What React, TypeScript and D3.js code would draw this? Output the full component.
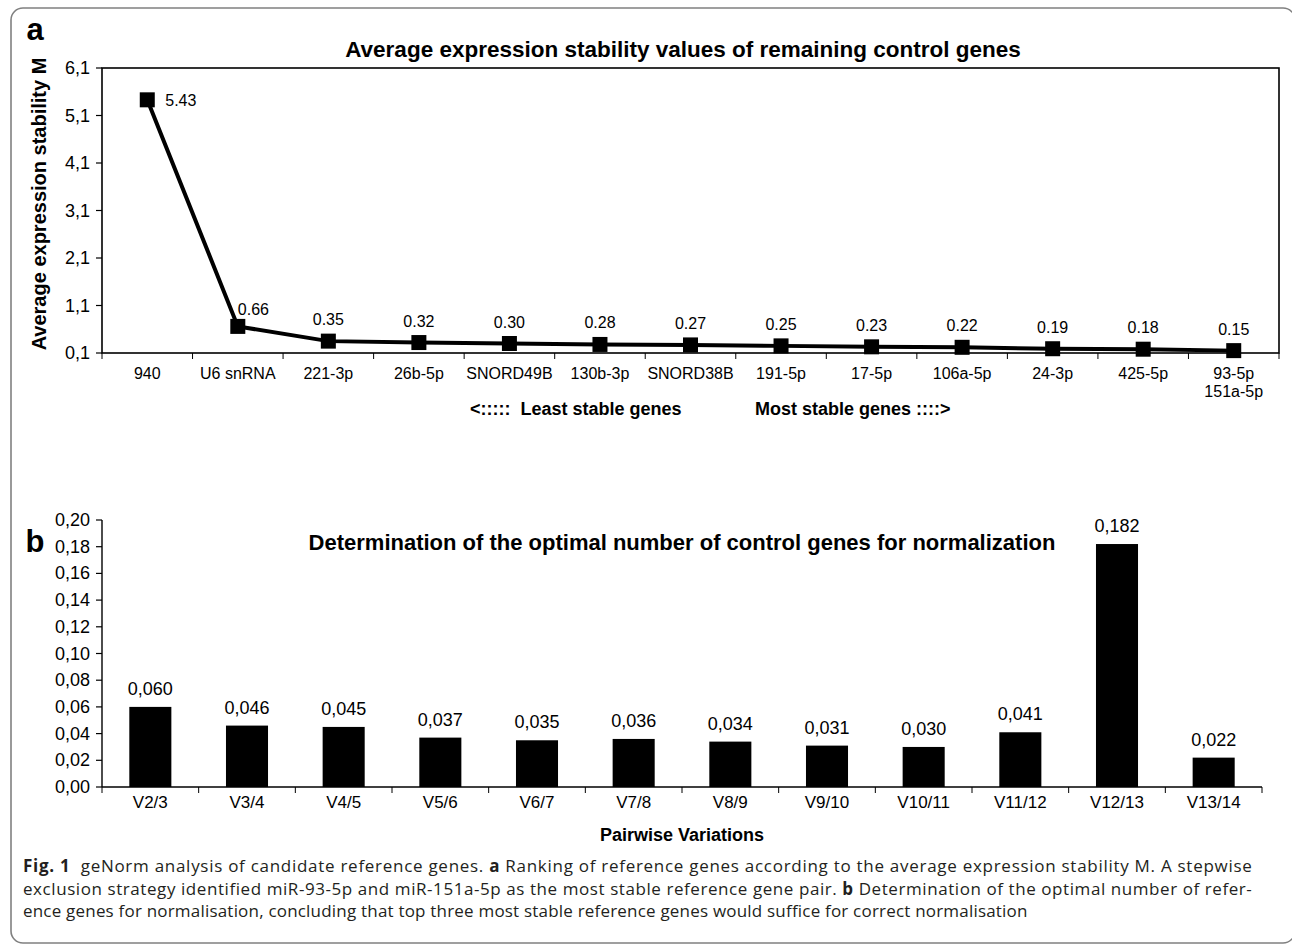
import React, { useRef, useEffect } from 'react';
import * as d3 from 'd3';

// panel a: geNorm M values, least stable -> most stable
const geneLabels: string[][] = [
  ['940'], ['U6 snRNA'], ['221-3p'], ['26b-5p'], ['SNORD49B'], ['130b-3p'], ['SNORD38B'],
  ['191-5p'], ['17-5p'], ['106a-5p'], ['24-3p'], ['425-5p'], ['93-5p', '151a-5p'],
];
const stabilityM = [5.43, 0.66, 0.35, 0.32, 0.30, 0.28, 0.27, 0.25, 0.23, 0.22, 0.19, 0.18, 0.15];
const mTicks = [0.1, 1.1, 2.1, 3.1, 4.1, 5.1, 6.1];

// panel b: pairwise variation V
const pairLabels = ['V2/3', 'V3/4', 'V4/5', 'V5/6', 'V6/7', 'V7/8', 'V8/9', 'V9/10', 'V10/11', 'V11/12', 'V12/13', 'V13/14'];
const pairwiseV = [0.060, 0.046, 0.045, 0.037, 0.035, 0.036, 0.034, 0.031, 0.030, 0.041, 0.182, 0.022];
const vTicks = [0, 0.02, 0.04, 0.06, 0.08, 0.10, 0.12, 0.14, 0.16, 0.18, 0.20];

const captionLines = [
  [{ t: 'Fig. 1', b: true }, { t: '  geNorm analysis of candidate reference genes. ', b: false }, { t: 'a', b: true },
    { t: ' Ranking of reference genes according to the average expression stability M. A stepwise', b: false }],
  [{ t: 'exclusion strategy identified miR-93-5p and miR-151a-5p as the most stable reference gene pair. ', b: false },
    { t: 'b', b: true }, { t: ' Determination of the optimal number of refer-', b: false }],
  [{ t: 'ence genes for normalisation, concluding that top three most stable reference genes would suffice for correct normalisation', b: false }],
];

const W = 1292;
const H = 945;
const FONT = "'Liberation Sans', Arial, sans-serif";
const CAP_FONT = "'Open Sans', 'Noto Sans', sans-serif";

const App: React.FC = () => {
  const svgRef = useRef<SVGSVGElement>(null);

  useEffect(() => {
    const svg = d3.select(svgRef.current);
    svg.selectAll('*').remove();

    svg.append('rect').attr('width', W).attr('height', H).attr('fill', '#fff');
    svg.append('rect')
      .attr('x', 11).attr('y', 8).attr('width', 1284).attr('height', 935).attr('rx', 12)
      .attr('fill', 'none').attr('stroke', '#808080').attr('stroke-width', 1.6);

    // ---------- panel a ----------
    const pa = { left: 102, right: 1279, top: 68, bottom: 353 };
    const xA = d3.scaleBand<number>().domain(d3.range(stabilityM.length)).range([pa.left, pa.right]);
    const yA = d3.scaleLinear().domain([0.1, 6.1]).range([pa.bottom, pa.top]);
    const gA = svg.append('g').attr('font-family', FONT);

    gA.append('text').attr('x', 35).attr('y', 40).attr('text-anchor', 'middle')
      .attr('font-size', 31).attr('font-weight', 'bold').text('a');
    gA.append('text').attr('x', 683).attr('y', 57).attr('text-anchor', 'middle')
      .attr('font-size', 22.5).attr('font-weight', 'bold')
      .text('Average expression stability values of remaining control genes');
    gA.append('text').attr('transform', `translate(46,204) rotate(-90)`)
      .attr('text-anchor', 'middle').attr('font-size', 20).attr('font-weight', 'bold')
      .text('Average expression stability M');

    gA.append('rect').attr('x', pa.left).attr('y', pa.top)
      .attr('width', pa.right - pa.left).attr('height', pa.bottom - pa.top)
      .attr('fill', 'none').attr('stroke', '#000').attr('stroke-width', 1.6);

    // y ticks
    mTicks.forEach(t => {
      gA.append('line').attr('x1', pa.left - 6).attr('x2', pa.left)
        .attr('y1', yA(t)).attr('y2', yA(t)).attr('stroke', '#000').attr('stroke-width', 1.2);
      gA.append('text').attr('x', pa.left - 12).attr('y', yA(t) + 6).attr('text-anchor', 'end')
        .attr('font-size', 18).text(d3.format('.1f')(t).replace('.', ','));
    });

    // x ticks at category edges
    d3.range(stabilityM.length + 1).forEach(i => {
      const x = pa.left + i * xA.step();
      gA.append('line').attr('x1', x).attr('x2', x).attr('y1', pa.bottom).attr('y2', pa.bottom + 6)
        .attr('stroke', '#000').attr('stroke-width', 1);
    });
    geneLabels.forEach((lines, i) => {
      const cx = (xA(i) ?? 0) + xA.bandwidth() / 2;
      lines.forEach((l, k) => {
        gA.append('text').attr('x', cx).attr('y', 379 + k * 18).attr('text-anchor', 'middle')
          .attr('font-size', 16).text(l);
      });
    });

    gA.append('text').attr('x', 470).attr('y', 415).attr('font-size', 18).attr('font-weight', 'bold')
      .attr('xml:space', 'preserve').text('<:::::  Least stable genes');
    gA.append('text').attr('x', 755).attr('y', 415).attr('font-size', 18).attr('font-weight', 'bold')
      .text('Most stable genes ::::>');

    const cxA = (i: number) => (xA(i) ?? 0) + xA.bandwidth() / 2;
    const line = d3.line<number>().x((_, i) => cxA(i)).y(d => yA(d));
    gA.append('path').datum(stabilityM).attr('d', line)
      .attr('fill', 'none').attr('stroke', '#000').attr('stroke-width', 4);
    const ms = 15;
    gA.selectAll('rect.mk').data(stabilityM).enter().append('rect')
      .attr('x', (_, i) => cxA(i) - ms / 2).attr('y', d => yA(d) - ms / 2)
      .attr('width', ms).attr('height', ms).attr('fill', '#000');
    stabilityM.forEach((v, i) => {
      const t = gA.append('text').attr('font-size', 16).text(v.toFixed(2));
      if (i === 0) t.attr('x', cxA(i) + 18).attr('y', yA(v) + 6);
      else if (i === 1) t.attr('x', cxA(i)).attr('y', yA(v) - 11);
      else t.attr('x', cxA(i)).attr('y', yA(v) - 16).attr('text-anchor', 'middle');
    });

    // ---------- panel b ----------
    const pb = { left: 102, right: 1262, top: 520, bottom: 787 };
    const xB = d3.scaleBand<string>().domain(pairLabels).range([pb.left, pb.right])
      .paddingInner(0.565).paddingOuter(0.2825);
    const yB = d3.scaleLinear().domain([0, 0.2]).range([pb.bottom, pb.top]);
    const gB = svg.append('g').attr('font-family', FONT);

    gB.append('text').attr('x', 35).attr('y', 552).attr('text-anchor', 'middle')
      .attr('font-size', 31).attr('font-weight', 'bold').text('b');
    gB.append('text').attr('x', 682).attr('y', 550).attr('text-anchor', 'middle')
      .attr('font-size', 22).attr('font-weight', 'bold')
      .text('Determination of the optimal number of control genes for normalization');

    gB.selectAll('rect.bar').data(pairwiseV).enter().append('rect')
      .attr('x', (_, i) => xB(pairLabels[i]) ?? 0).attr('y', d => yB(d))
      .attr('width', xB.bandwidth()).attr('height', d => pb.bottom - yB(d)).attr('fill', '#000');
    pairwiseV.forEach((v, i) => {
      gB.append('text').attr('x', (xB(pairLabels[i]) ?? 0) + xB.bandwidth() / 2).attr('y', yB(v) - 12)
        .attr('text-anchor', 'middle').attr('font-size', 18).text(v.toFixed(3).replace('.', ','));
    });

    gB.append('line').attr('x1', pb.left).attr('x2', pb.left).attr('y1', pb.top).attr('y2', pb.bottom)
      .attr('stroke', '#000').attr('stroke-width', 1.4);
    gB.append('line').attr('x1', pb.left).attr('x2', pb.right).attr('y1', pb.bottom).attr('y2', pb.bottom)
      .attr('stroke', '#000').attr('stroke-width', 1.4);
    vTicks.forEach(t => {
      gB.append('line').attr('x1', pb.left - 6).attr('x2', pb.left)
        .attr('y1', yB(t)).attr('y2', yB(t)).attr('stroke', '#000').attr('stroke-width', 1.2);
      gB.append('text').attr('x', pb.left - 12).attr('y', yB(t) + 6).attr('text-anchor', 'end')
        .attr('font-size', 18).text(t.toFixed(2).replace('.', ','));
    });
    d3.range(pairLabels.length + 1).forEach(i => {
      const x = pb.left + i * xB.step();
      gB.append('line').attr('x1', x).attr('x2', x).attr('y1', pb.bottom).attr('y2', pb.bottom + 6)
        .attr('stroke', '#000').attr('stroke-width', 1);
    });
    pairLabels.forEach(l => {
      gB.append('text').attr('x', (xB(l) ?? 0) + xB.bandwidth() / 2).attr('y', 808)
        .attr('text-anchor', 'middle').attr('font-size', 17).text(l);
    });
    gB.append('text').attr('x', 682).attr('y', 841).attr('text-anchor', 'middle')
      .attr('font-size', 18).attr('font-weight', 'bold').text('Pairwise Variations');

    // ---------- caption ----------
    const gC = svg.append('g').attr('font-family', CAP_FONT).attr('font-size', 17)
      .attr('letter-spacing', 0.2).attr('fill', '#231f20');
    captionLines.forEach((parts, k) => {
      const t = gC.append('text').attr('x', 23).attr('y', 872 + k * 22.5).attr('xml:space', 'preserve');
      if (k < 2) t.attr('textLength', 1229).attr('lengthAdjust', 'spacing');
      parts.forEach(p => {
        t.append('tspan').attr('font-weight', p.b ? 'bold' : 'normal').text(p.t);
      });
    });
  }, []);

  return (
    <div style={{ position: 'absolute', left: 0, top: 0 }}>
      <svg ref={svgRef} width={W} height={H} style={{ display: 'block' }} />
    </div>
  );
};

export default App;
